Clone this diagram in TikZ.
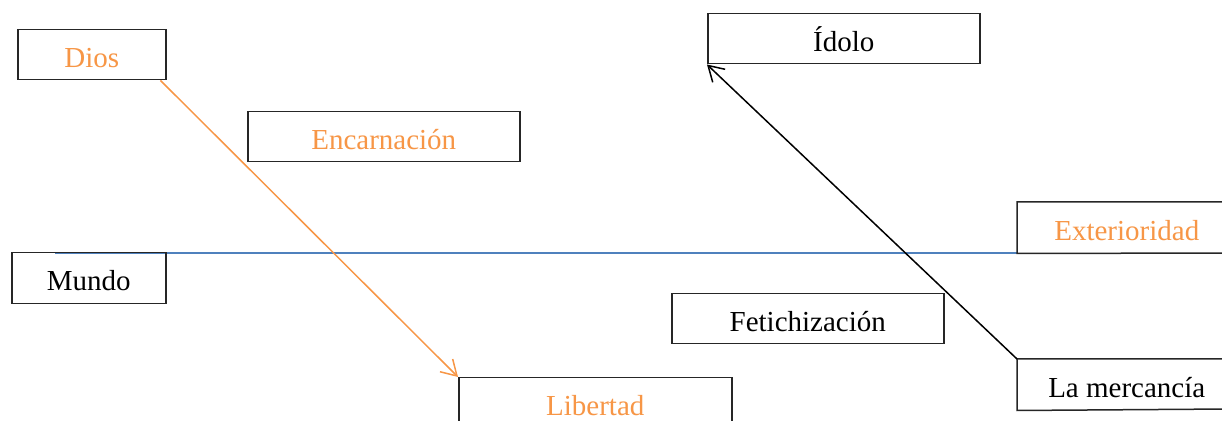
\documentclass[tikz,border=0pt]{standalone}
\usepackage{fontspec}
\setmainfont{Liberation Serif}
\usetikzlibrary{arrows.meta}
\definecolor{accent}{HTML}{F79646}
\definecolor{axisblue}{HTML}{4F81BD}
\tikzset{
  box/.style={draw=black!85, line width=0.75pt, fill=white, rectangle, anchor=north west,
    inner sep=0pt, minimum height=25pt, text height=12.6pt, text depth=0pt,
    font=\fontsize{14.5}{17}\selectfont},
  warm/.style={text=accent},
  link/.style={line width=0.75pt, -{Straight Barb[length=7.5pt,width=9pt,line width=0.75pt]}},
  % box whose right side runs past the picture edge
  openbox/.style={box, draw=none, minimum width=109pt},
  openframe/.style={draw=black!85, line width=0.75pt},
}
\begin{document}
\begin{tikzpicture}[x=0.5pt,y=-0.5pt]
\useasboundingbox (0,0) rectangle (1222,421);
% horizontal divider
\coordinate (lineL) at (55,253);
\coordinate (lineR) at (1188,253);
\draw[axisblue, line width=0.9pt] (lineL) -- (lineR);
% boxes
\node[box, warm, minimum width=74pt]  (dios)   at (17,29)   {Dios};
\node[box, warm, minimum width=136pt] (encar)  at (247,111) {Encarnación};
\node[box, minimum width=136pt]       (idolo)  at (707,13)  {Ídolo};
\node[openbox, warm]                  (exter)  at (1017,202) {Exterioridad};
\draw[openframe] (1230,202) -- (exter.north west) -- (exter.south west) -- (1230,253);
\node[box, fill=none, minimum width=77pt, minimum height=25.5pt] (mundo) at (11,252) {Mundo};
\node[box, minimum width=136pt]       (fetich) at (671,293) {Fetichización};
\node[box, warm, minimum width=136.5pt] (libert) at (458,377) {Libertad};
\node[openbox]                        (merc)   at (1017,359) {La mercancía};
\draw[openframe] (1230,359) -- (merc.north west) -- (merc.south west) -- (1230,409);
% connectors
\draw[link, accent] ([xshift=-3pt]dios.south east) -- (libert.north west);
\draw[link, black] (merc.north west) -- (idolo.south west);
\end{tikzpicture}
\end{document}
